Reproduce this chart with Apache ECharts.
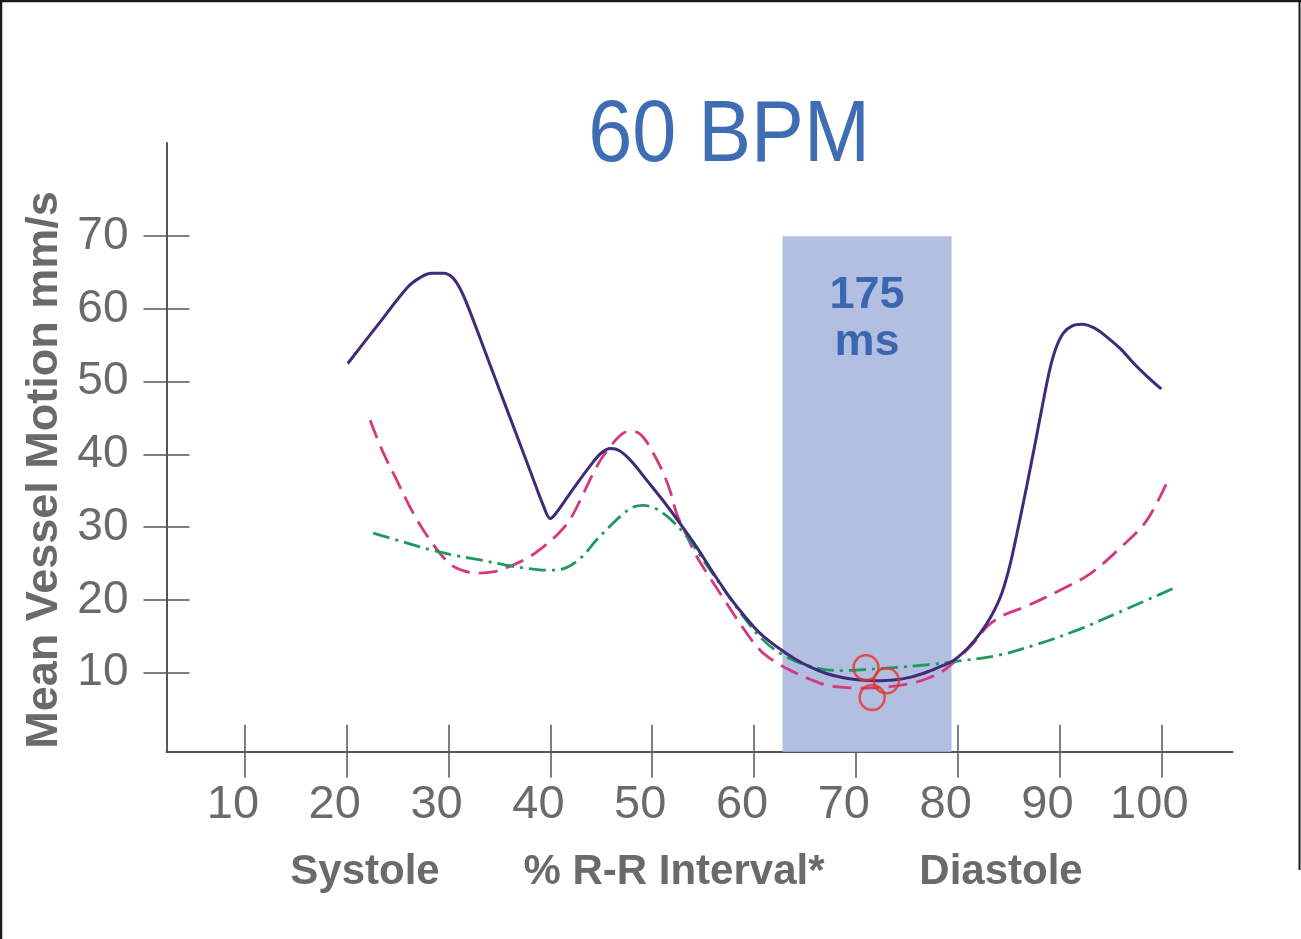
<!DOCTYPE html>
<html>
<head>
<meta charset="utf-8">
<style>
  html, body { margin: 0; padding: 0; background: #fff; }
  #chart { width: 1301px; height: 939px; }
</style>
<script src="https://cdn.jsdelivr.net/npm/echarts@6/dist/echarts.min.js"></script>
</head>
<body>
<div id="chart"></div>
<script>
// Mean vessel motion over the R-R interval at 60 BPM, [percent R-R, mm/s]
const solidCurve = [
  [20.1,52.5],[23,57.7],[26,63.0],[27.2,64.3],[28.3,64.9],[29.5,64.9],[30.4,64.3],[31.2,62.6],
  [32,60.0],[34,52.6],[36,45.2],[38,37.8],[39.3,33.0],[40,31.2],[40.7,32.2],[42,34.8],
  [44,38.6],[45,40.2],[45.9,40.8],[46.8,40.5],[48,39.0],[49.5,36.4],[51.1,33.6],[52.8,30.4],
  [54.4,27.2],[56,23.7],[57.5,20.6],[59,17.9],[60.6,15.4],[62.2,13.6],[63.9,12.0],[65.5,10.8],
  [67.1,9.9],[68.8,9.3],[70.4,9.0],[72,8.9],[73.7,9.0],[75.4,9.4],[77,10.1],[78.4,10.9],
  [79.6,11.7],[81,13.4],[82.2,15.4],[83.3,17.8],[84.3,20.8],[85.1,24.6],[85.8,29.0],[86.5,33.7],
  [87.2,38.6],[87.8,42.9],[88.5,48.0],[89.1,52.0],[89.7,54.8],[90.4,56.7],[91.3,57.7],[92.2,57.9],
  [93.4,57.4],[94.6,56.2],[96,54.5],[97.3,52.5],[98.7,50.6],[100,49.0]
];
const dashedCurve = [
  [22.3,44.7],[23.5,40.5],[24.9,36.5],[26.5,32.0],[28.2,28.2],[30.1,25.0],[31.5,24.0],[32.8,23.7],
  [34.5,23.9],[36,24.6],[37.8,25.8],[39.3,27.3],[40.7,29.0],[41.9,31.0],[43.1,34.2],[44.2,37.4],
  [45.1,39.6],[45.9,41.1],[46.7,42.4],[47.5,43.1],[48.3,43.1],[49.1,42.4],[50.1,40.2],[51.1,37.4],
  [51.8,34.8],[52.4,31.9],[53.4,28.8],[54.4,25.9],[55.7,23.0],[57,20.2],[58.8,16.4],[60.6,13.1],
  [62.2,11.4],[63.9,10.1],[65.5,9.1],[67.1,8.3],[68.8,8.0],[70.4,7.9],[72.8,8.0],[75.3,8.5],
  [77,9.2],[78.6,10.3],[80,11.9],[81.5,14.0],[83,16.5],[84.5,17.9],[86.5,19.0],[90,21.3],
  [93,23.6],[96,27.2],[98.5,30.8],[100.5,36.0]
];
const dashDotCurve = [
  [22.6,29.2],[25.5,28.0],[28.2,26.9],[30.7,26.1],[33.1,25.5],[35.6,24.8],[38,24.3],[39.8,24.1],
  [41.3,24.3],[43,25.8],[44.5,28.2],[45.9,30.2],[47.2,31.9],[48.2,32.8],[49.1,33.0],[50.1,32.7],
  [51.1,31.9],[52.1,30.7],[53.1,29.2],[54.1,27.4],[55,25.5],[56,23.5],[57,21.5],[58.8,18.0],
  [60.6,14.9],[62.2,13.0],[63.9,11.7],[65.5,10.9],[67.1,10.4],[68.8,10.3],[70.4,10.4],[73.7,10.7],
  [77,11.1],[80,11.6],[84,12.4],[88,14.0],[92,16.0],[96,18.4],[101.2,21.6]
];
// optimal reconstruction phases
const markerPoints = [[71.0,10.7],[73.0,8.9],[71.6,6.6]];
// acquisition window: start %, end %, top mm/s
const windowBand = [62.8, 79.4, 70];
const windowLabel = ['175', 'ms'];

const xTicks = [10,20,30,40,50,60,70,80,90,100];
const yTicks = [10,20,30,40,50,60,70];
const xRange = [2.3, 107];
const yRange = [-0.85, 82.8];

const titleText = '60 BPM';
const yTitle = 'Mean Vessel Motion mm/s';
const xCaptions = [['Systole', 365], ['% R-R Interval*', 674], ['Diastole', 1001]];

const SANS = '"Liberation Sans", sans-serif';
const AXIS_GREY = '#555555';
const TEXT_GREY = '#6a6a6a';

const chart = echarts.init(document.getElementById('chart'), null, { renderer: 'canvas' });

function makeXAxis(inside) {
  return {
    type: 'value', min: xRange[0], max: xRange[1], position: 'bottom',
    axisLine: { show: !inside, onZero: false, lineStyle: { color: AXIS_GREY, width: 2 } },
    axisTick: { show: true, inside: inside, length: inside ? 27 : 26, customValues: xTicks,
                lineStyle: { color: AXIS_GREY, width: 1.5 } },
    axisLabel: { show: !inside, customValues: xTicks, margin: 30, color: TEXT_GREY,
                 fontFamily: SANS, fontSize: 47, padding: [0, 24, 0, 0] },
    splitLine: { show: false }
  };
}
function makeYAxis(inside) {
  return {
    type: 'value', min: yRange[0], max: yRange[1], position: 'left',
    axisLine: { show: !inside, onZero: false, lineStyle: { color: AXIS_GREY, width: 2 } },
    axisTick: { show: true, inside: inside, length: 23, customValues: yTicks,
                lineStyle: { color: AXIS_GREY, width: 1.5 } },
    axisLabel: { show: !inside, customValues: yTicks, margin: 38, color: TEXT_GREY,
                 fontFamily: SANS, fontSize: 46 },
    splitLine: { show: false }
  };
}

const option = {
  backgroundColor: '#ffffff',
  animation: false,
  grid: { left: 166.5, right: 68.4, top: 143, bottom: 187.3 },
  xAxis: [makeXAxis(false), makeXAxis(true)],
  yAxis: [makeYAxis(false), makeYAxis(true)],
  series: [
    {
      name: 'window', type: 'line', data: [], silent: true,
      markArea: {
        silent: true,
        itemStyle: { color: '#b3bfe1' },
        label: {
          show: true, position: 'insideTop', distance: 36,
          formatter: windowLabel.join('\n'),
          color: '#3c66b0', fontFamily: SANS, fontWeight: 'bold',
          fontSize: 45, lineHeight: 47
        },
        data: [[{ xAxis: windowBand[0], yAxis: yRange[0] }, { xAxis: windowBand[1], yAxis: windowBand[2] }]]
      },
      z: 1
    },
    {
      name: 'solid', type: 'line', data: solidCurve, smooth: 0.35, showSymbol: false,
      lineStyle: { color: '#3f2b79', width: 3 }, z: 4
    },
    {
      name: 'dashed', type: 'line', data: dashedCurve, smooth: 0.35, showSymbol: false,
      lineStyle: { color: '#d4387f', width: 2.8, type: [19, 9] }, z: 3
    },
    {
      name: 'dashdot', type: 'line', data: dashDotCurve, smooth: 0.35, showSymbol: false,
      lineStyle: { color: '#1e9a5e', width: 2.8, type: [17, 6, 3, 6] }, z: 3
    },
    {
      name: 'markers', type: 'scatter', data: markerPoints, symbol: 'circle', symbolSize: 25,
      itemStyle: { color: 'rgba(0,0,0,0)', borderColor: '#e5332a', borderWidth: 2.5 }, z: 5
    }
  ],
  graphic: [
    { type: 'text', x: 729, y: 137, scaleX: 0.9,
      style: { text: titleText, x: 0, y: 0, align: 'center', verticalAlign: 'middle',
               font: '88px ' + SANS, fill: '#3f6db3' } },
    { type: 'text', x: 45, y: 470, rotation: Math.PI / 2,
      style: { text: yTitle, x: 0, y: 0, align: 'center', verticalAlign: 'middle',
               font: 'bold 45px ' + SANS, fill: TEXT_GREY } }
  ].concat(xCaptions.map(([t, cx]) => ({
      type: 'text', x: cx, y: 872,
      style: { text: t, x: 0, y: 0, align: 'center', verticalAlign: 'middle',
               font: 'bold 42px ' + SANS, fill: TEXT_GREY } }))).concat([
    { type: 'line', shape: { x1: 1, y1: 0, x2: 1, y2: 939 }, style: { stroke: '#1a1a1a', lineWidth: 2.5 } },
    { type: 'line', shape: { x1: 0, y1: 1, x2: 1301, y2: 1 }, style: { stroke: '#1a1a1a', lineWidth: 2.5 } },
    { type: 'line', shape: { x1: 1299.5, y1: 0, x2: 1299.5, y2: 870 }, style: { stroke: '#1a1a1a', lineWidth: 2 } }
  ])
};
chart.setOption(option);
</script>
</body>
</html>
